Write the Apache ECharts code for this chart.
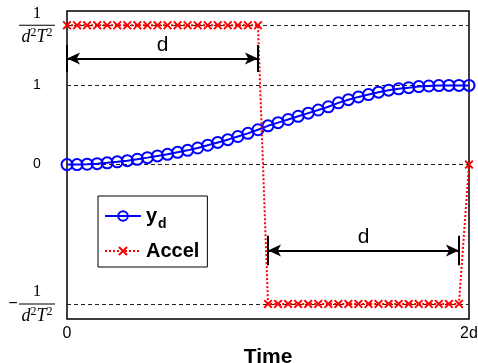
<!DOCTYPE html>
<html>
<head>
<meta charset="utf-8">
<script src="https://cdn.jsdelivr.net/npm/echarts@6/dist/echarts.min.js"></script>
<style>
  html, body { margin: 0; padding: 0; background: #fff; }
  #chart { width: 478px; height: 363px; }
</style>
</head>
<body>
<div id="chart"></div>
<script>
// time in units of d (0 .. 2d), sampled every 0.05d
const timeSteps = [
  0, 0.05, 0.1, 0.15, 0.2, 0.25, 0.3, 0.35, 0.4, 0.45,
  0.5, 0.55, 0.6, 0.65, 0.7, 0.75, 0.8, 0.85, 0.9, 0.95,
  1.0, 1.05, 1.1, 1.15, 1.2, 1.25, 1.3, 1.35, 1.4, 1.45,
  1.5, 1.55, 1.6, 1.65, 1.7, 1.75, 1.8, 1.85, 1.9, 1.95, 2.0
];

// y_d
const ydValues = [
  0, 0, 0.005, 0.012, 0.022, 0.035, 0.05, 0.067, 0.088, 0.11,
  0.13, 0.155, 0.18, 0.21, 0.245, 0.28, 0.315, 0.355, 0.395, 0.44,
  0.49, 0.53, 0.57, 0.61, 0.65, 0.69, 0.73, 0.78, 0.82, 0.855,
  0.885, 0.915, 0.94, 0.957, 0.972, 0.985, 0.993, 0.998, 1.0, 1.0, 1.0
];

// acceleration: +1/(d^2T^2) then -1/(d^2T^2), back to 0 at 2d
const accelValues = [
  1.76, 1.76, 1.76, 1.76, 1.76, 1.76, 1.76, 1.76, 1.76, 1.76,
  1.76, 1.76, 1.76, 1.76, 1.76, 1.76, 1.76, 1.76, 1.76, 1.76,
  -1.76, -1.76, -1.76, -1.76, -1.76, -1.76, -1.76, -1.76, -1.76, -1.76,
  -1.76, -1.76, -1.76, -1.76, -1.76, -1.76, -1.76, -1.76, -1.76, -1.76, 0
];

const yTickValues = [-1.76, 0, 1, 1.76];
const xTickValues = [0, 2];
const xTickLabels = ['0', '2d'];

const chart = echarts.init(document.getElementById('chart'), null, { renderer: 'canvas' });

const crossSymbol = 'path://M0,1.5L1.5,0L5,3.5L8.5,0L10,1.5L6.5,5L10,8.5L8.5,10L5,6.5L1.5,10L0,8.5L3.5,5Z';

const fracRich = {
  num: { fontFamily: 'Liberation Serif', fontSize: 17, color: '#000', lineHeight: 19, align: 'center' },
  den: { fontFamily: 'Liberation Serif', fontStyle: 'italic', fontSize: 18, color: '#000', lineHeight: 19, align: 'center' },
  sup: { fontFamily: 'Liberation Serif', fontSize: 12, color: '#000', lineHeight: 19, padding: [0, 0, 8, 0] },
  bar: { width: 36, height: 1, lineHeight: 5, backgroundColor: '#000' },
  minus: { fontFamily: 'Liberation Sans', fontSize: 16, color: '#000', width: 12, lineHeight: 5 },
  sp: { width: 12, lineHeight: 5 },
  plain: { fontFamily: 'Liberation Sans', fontSize: 14, color: '#000' }
};

function yLabel(v) {
  const den = '{den|d}{sup|2}{den|T}{sup|2}';
  if (v > 1.5) return '{num|1}\n{bar| }\n' + den;
  if (v < -1.5) return '{num|1}\n{minus|\u2212}{bar| }{sp| }\n' + den;
  return '{plain|' + (v === 0 ? '0' : '1') + '}';
}

const lineBlack = { color: '#000', width: 2, type: 'solid' };

const option = {
  animation: false,
  backgroundColor: '#fff',
  grid: {
    left: 67, right: 9, top: 11, bottom: 44,
    outerBoundsMode: 'none',
    containLabel: false,
    show: true, borderColor: '#000', borderWidth: 1.5, backgroundColor: 'transparent'
  },
  xAxis: {
    type: 'value',
    min: 0, max: 2,
    name: 'Time',
    nameLocation: 'middle',
    nameGap: 23,
    nameTextStyle: { fontFamily: 'Liberation Sans', fontWeight: 'bold', fontSize: 21, color: '#000' },
    axisLine: { show: false },
    axisTick: { show: false, customValues: xTickValues },
    splitLine: { show: false },
    axisLabel: {
      customValues: xTickValues,
      margin: 7,
      fontFamily: 'Liberation Sans', fontSize: 16, color: '#000',
      formatter: (v) => xTickLabels[xTickValues.indexOf(v)]
    }
  },
  yAxis: {
    type: 'value',
    min: -1.95, max: 1.94,
    axisLine: { show: false },
    axisTick: { show: false, customValues: yTickValues },
    splitLine: { show: true, lineStyle: { color: '#222', width: 1, type: [4, 3] } },
    axisLabel: {
      customValues: yTickValues,
      margin: 30,
      align: 'center',
      formatter: yLabel,
      rich: fracRich
    }
  },
  legend: {
    orient: 'vertical',
    left: 98, top: 196,
    padding: [10, 8, 6, 6],
    itemGap: 10,
    itemWidth: 36, itemHeight: 12,
    borderColor: '#000', borderWidth: 1,
    backgroundColor: '#fff',
    data: ['y_d', 'Accel'],
    formatter: (name) => name === 'y_d' ? '{main|y}{sub|d}' : '{main|Accel}',
    textStyle: {
      rich: {
        main: { fontFamily: 'Liberation Sans', fontWeight: 'bold', fontSize: 20, color: '#000' },
        sub: { fontFamily: 'Liberation Sans', fontWeight: 'bold', fontSize: 14, color: '#000', padding: [16, 0, 0, 1] }
      }
    }
  },
  series: [
    {
      name: 'y_d',
      type: 'line',
      data: timeSteps.map((t, i) => [t, ydValues[i]]),
      symbol: 'circle',
      symbolSize: 11,
      showAllSymbol: true,
      lineStyle: { color: '#0000ff', width: 2 },
      itemStyle: { color: 'rgba(0,0,0,0)', borderColor: '#0000ff', borderWidth: 2 },
      emphasis: { disabled: true },
      z: 3
    },
    {
      name: 'Accel',
      type: 'line',
      data: timeSteps.map((t, i) => [t, accelValues[i]]),
      symbol: crossSymbol,
      symbolSize: 9,
      showAllSymbol: true,
      lineStyle: { color: '#ff0000', width: 2, type: 'dotted' },
      itemStyle: { color: '#ff0000' },
      emphasis: { disabled: true },
      z: 4,
      markLine: {
        silent: true,
        animation: false,
        symbol: ['arrow', 'arrow'],
        symbolSize: [9, 13],
        lineStyle: lineBlack,
        label: {
          show: true,
          position: 'insideMiddleTop',
          distance: 3,
          formatter: 'd',
          fontFamily: 'Liberation Sans', fontSize: 21, color: '#000'
        },
        data: [
          [{ coord: [0, 1.34] }, { coord: [0.95, 1.34] }],
          [{ coord: [1.0, -1.085] }, { coord: [1.95, -1.085] }],
          [{ coord: [0, 1.51], symbol: 'none', label: { show: false } }, { coord: [0, 1.17], symbol: 'none' }],
          [{ coord: [0.95, 1.51], symbol: 'none', label: { show: false } }, { coord: [0.95, 1.17], symbol: 'none' }],
          [{ coord: [1.0, -0.9], symbol: 'none', label: { show: false } }, { coord: [1.0, -1.27], symbol: 'none' }],
          [{ coord: [1.95, -0.9], symbol: 'none', label: { show: false } }, { coord: [1.95, -1.27], symbol: 'none' }]
        ]
      }
    }
  ]
};

chart.setOption(option);
</script>
</body>
</html>
